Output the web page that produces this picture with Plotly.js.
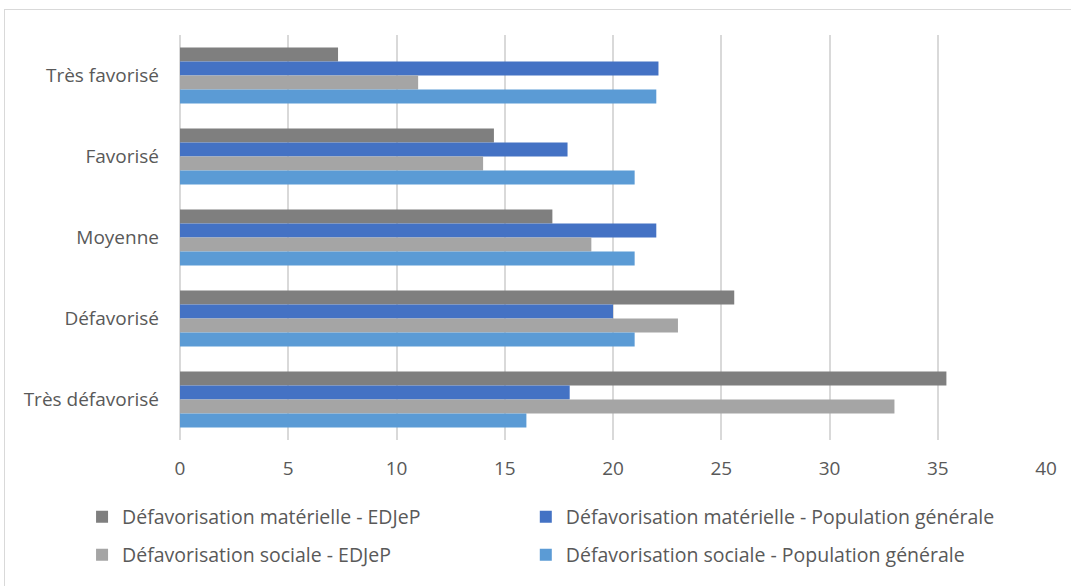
<!DOCTYPE html>
<html>
<head>
<meta charset="utf-8">
<script src="https://cdn.plot.ly/plotly-3.0.1.min.js"></script>
<style>
html,body{margin:0;padding:0;background:#fff;}
#wrap{position:relative;width:1071px;height:586px;overflow:hidden;}
#chart{position:absolute;left:0;top:0;width:1071px;height:586px;}
#border{position:absolute;left:4px;top:9px;width:1100px;height:600px;border:1px solid #d9d9d9;pointer-events:none;}
</style>
</head>
<body>
<div id="wrap"><div id="border"></div><div id="chart"></div></div>
<script>
const categories = ["Très favorisé", "Favorisé", "Moyenne", "Défavorisé", "Très défavorisé"];
const seriesNames = [
  "Défavorisation matérielle - EDJeP",
  "Défavorisation matérielle - Population générale",
  "Défavorisation sociale - EDJeP",
  "Défavorisation sociale - Population générale"
];
const materielleEDJeP = [7.3, 14.5, 17.2, 25.6, 35.4];
const materiellePop = [22.1, 17.9, 22.0, 20.0, 18.0];
const socialeEDJeP = [11.0, 14.0, 19.0, 23.0, 33.0];
const socialePop = [22.0, 21.0, 21.0, 21.0, 16.0];
const xTicks = [0, 5, 10, 15, 20, 25, 30, 35, 40];
const colors = ["#7f7f7f", "#4472c4", "#a5a5a5", "#5b9bd5"];

const values = [materielleEDJeP, materiellePop, socialeEDJeP, socialePop];
const legendIds = ["legend", "legend2", "legend3", "legend4"];
const traces = values.map((v, i) => ({
  type: "bar",
  orientation: "h",
  name: seriesNames[i],
  x: v,
  y: categories,
  marker: {color: colors[i], line: {width: 0}},
  legend: legendIds[i],
  hoverinfo: "x+name"
}));

const FONT = "'Open Sans', Calibri, Carlito, sans-serif";
const TXT = "#595959";
function leg(x, y) {
  return {
    orientation: "h",
    xref: "paper", yref: "paper",
    xanchor: "left", yanchor: "middle",
    x: x, y: y,
    itemwidth: 30,
    font: {family: FONT, size: 19.5, color: TXT},
    bgcolor: "rgba(0,0,0,0)"
  };
}

const layout = {
  width: 1071, height: 586,
  margin: {l: 179.5, r: 25, t: 35.4, b: 144.4},
  paper_bgcolor: "rgba(0,0,0,0)",
  plot_bgcolor: "rgba(0,0,0,0)",
  barmode: "group",
  bargap: 0.31,
  bargroupgap: 0,
  font: {family: FONT, size: 19, color: TXT},
  xaxis: {
    range: [0, 40],
    tickvals: xTicks,
    ticktext: xTicks.map(String),
    showgrid: true, gridcolor: "#d9d9d9", gridwidth: 1.5,
    zeroline: true, zerolinecolor: "#d9d9d9", zerolinewidth: 1.5,
    showline: false,
    ticks: "", ticklabelstandoff: 15, fixedrange: true,
    tickfont: {family: FONT, size: 19, color: TXT}
  },
  yaxis: {
    type: "category",
    categoryorder: "array",
    categoryarray: categories,
    autorange: "reversed",
    showgrid: false, zeroline: false, showline: false,
    ticks: "", ticklabelstandoff: 20, fixedrange: true,
    tickfont: {family: FONT, size: 19, color: TXT}
  },
  legend: leg(-0.1131, -0.1905),
  legend2: leg(0.3993, -0.1905),
  legend3: leg(-0.1131, -0.284),
  legend4: leg(0.3993, -0.284),
  showlegend: true
};

Plotly.newPlot("chart", traces, layout, {displayModeBar: false});
</script>
</body>
</html>
